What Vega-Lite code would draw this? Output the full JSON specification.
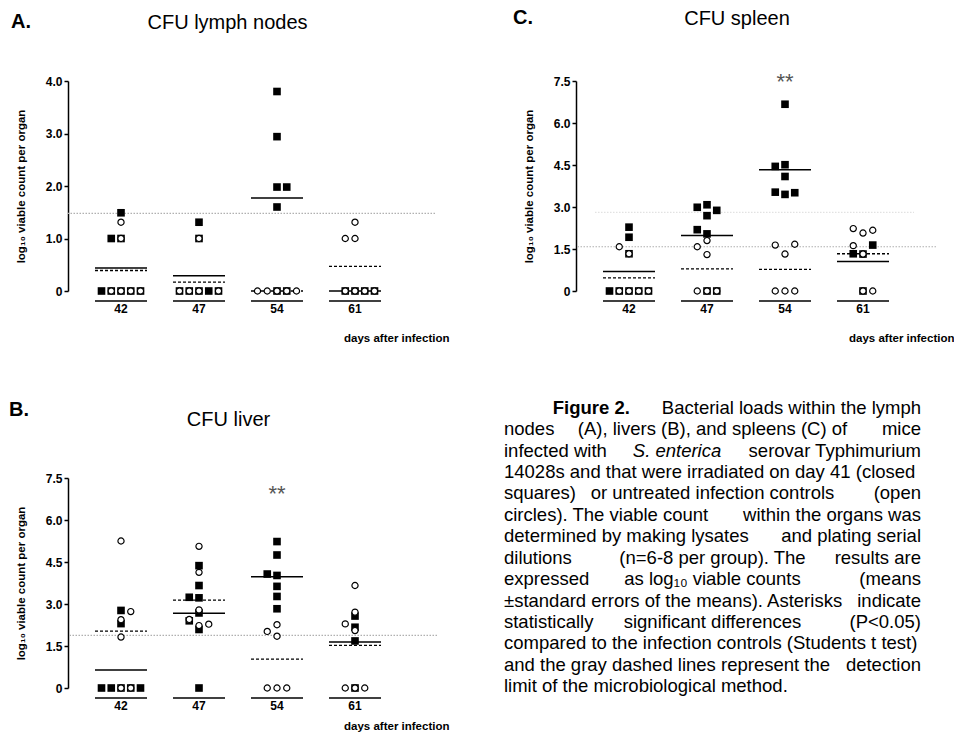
{
"$schema":"https://vega.github.io/schema/vega-lite/v6.json",
"padding":{"left":8,"top":7,"right":0,"bottom":0},
"config":{
 "font":"Liberation Sans",
 "view":{"stroke":null},
 "axis":{"grid":false,"labelFont":"Liberation Sans","titleFont":"Liberation Sans","labelFontWeight":"bold","titleFontWeight":"bold","labelFontSize":12,"titleFontSize":11.5,"labelColor":"black","titleColor":"black","domainColor":"black","tickColor":"black"},
 "axisY":{"domainWidth":1.5,"tickWidth":1.5,"tickSize":4,"labelPadding":2,"titleX":-47,"titleBaseline":"middle"},
 "axisX":{"domain":false,"ticks":false,"labelPadding":12,"labelAngle":0,"titleAnchor":"end","titleAlign":"right","titleX":381,"titleY":47,"titleBaseline":"middle"},
 "title":{"font":"Liberation Sans","color":"black"}
},
"spacing":54,
"datasets":{
"lymph":[
{"day":"42","grp":"S","slot":-2,"log":0},{"day":"42","grp":"S","slot":-1,"log":0},{"day":"42","grp":"S","slot":0,"log":0},{"day":"42","grp":"S","slot":1,"log":0},{"day":"42","grp":"S","slot":2,"log":0},{"day":"42","grp":"S","slot":-1,"log":1.0},{"day":"42","grp":"S","slot":0,"log":1.0},{"day":"42","grp":"S","slot":0,"log":1.49},
{"day":"47","grp":"S","slot":-2,"log":0},{"day":"47","grp":"S","slot":-1,"log":0},{"day":"47","grp":"S","slot":0,"log":0},{"day":"47","grp":"S","slot":1,"log":0},{"day":"47","grp":"S","slot":2,"log":0},{"day":"47","grp":"S","slot":0,"log":1.0},{"day":"47","grp":"S","slot":0,"log":1.31},
{"day":"54","grp":"S","slot":0,"log":0},{"day":"54","grp":"S","slot":1,"log":0},{"day":"54","grp":"S","slot":0,"log":1.6},{"day":"54","grp":"S","slot":0,"log":1.98},{"day":"54","grp":"S","slot":1,"log":1.98},{"day":"54","grp":"S","slot":0,"log":2.94},{"day":"54","grp":"S","slot":0,"log":3.8},
{"day":"61","grp":"S","slot":-1,"log":0},{"day":"61","grp":"S","slot":0,"log":0},{"day":"61","grp":"S","slot":1,"log":0},{"day":"61","grp":"S","slot":2,"log":0},
{"day":"42","grp":"C","slot":-1,"log":0},{"day":"42","grp":"C","slot":0,"log":0},{"day":"42","grp":"C","slot":1,"log":0},{"day":"42","grp":"C","slot":2,"log":0},{"day":"42","grp":"C","slot":0,"log":1.0},{"day":"42","grp":"C","slot":0,"log":1.31},
{"day":"47","grp":"C","slot":-2,"log":0},{"day":"47","grp":"C","slot":-1,"log":0},{"day":"47","grp":"C","slot":0,"log":0},{"day":"47","grp":"C","slot":2,"log":0},{"day":"47","grp":"C","slot":0,"log":1.0},
{"day":"54","grp":"C","slot":-2,"log":0},{"day":"54","grp":"C","slot":-1,"log":0},{"day":"54","grp":"C","slot":0,"log":0},{"day":"54","grp":"C","slot":1,"log":0},{"day":"54","grp":"C","slot":2,"log":0},
{"day":"61","grp":"C","slot":-1,"log":0},{"day":"61","grp":"C","slot":0,"log":0},{"day":"61","grp":"C","slot":1,"log":0},{"day":"61","grp":"C","slot":2,"log":0},{"day":"61","grp":"C","slot":-1,"log":1.0},{"day":"61","grp":"C","slot":0,"log":1.0},{"day":"61","grp":"C","slot":0,"log":1.31}
],
"lymphMean":[{"day":"42","sq":0.44,"ci":0.39},{"day":"47","sq":0.29,"ci":0.17},{"day":"54","sq":1.77,"ci":0},{"day":"61","sq":0,"ci":0.47}],
"spleen":[
{"day":"42","grp":"S","slot":-2,"log":0},{"day":"42","grp":"S","slot":-1,"log":0},{"day":"42","grp":"S","slot":0,"log":0},{"day":"42","grp":"S","slot":1,"log":0},{"day":"42","grp":"S","slot":2,"log":0},{"day":"42","grp":"S","slot":0,"log":1.33},{"day":"42","grp":"S","slot":0,"log":1.92},{"day":"42","grp":"S","slot":0,"log":2.28},
{"day":"47","grp":"S","slot":0,"log":0},{"day":"47","grp":"S","slot":1,"log":0},{"day":"47","grp":"S","slot":0,"log":2.04},{"day":"47","grp":"S","slot":-1,"log":2.19},{"day":"47","grp":"S","slot":0,"log":2.69},{"day":"47","grp":"S","slot":1,"log":2.88},{"day":"47","grp":"S","slot":-1,"log":2.99},{"day":"47","grp":"S","slot":0,"log":3.08},
{"day":"54","grp":"S","slot":0,"log":6.67},{"day":"54","grp":"S","slot":0,"log":4.51},{"day":"54","grp":"S","slot":-1,"log":4.45},{"day":"54","grp":"S","slot":0,"log":4.09},{"day":"54","grp":"S","slot":-1,"log":3.53},{"day":"54","grp":"S","slot":0,"log":3.45},{"day":"54","grp":"S","slot":1,"log":3.51},
{"day":"61","grp":"S","slot":0,"log":0},{"day":"61","grp":"S","slot":0,"log":1.32},{"day":"61","grp":"S","slot":-1,"log":1.33},{"day":"61","grp":"S","slot":1,"log":1.64},
{"day":"42","grp":"C","slot":-1,"log":0},{"day":"42","grp":"C","slot":0,"log":0},{"day":"42","grp":"C","slot":1,"log":0},{"day":"42","grp":"C","slot":2,"log":0},{"day":"42","grp":"C","slot":-1,"log":1.58},{"day":"42","grp":"C","slot":0,"log":1.33},
{"day":"47","grp":"C","slot":-1,"log":0},{"day":"47","grp":"C","slot":0,"log":0},{"day":"47","grp":"C","slot":1,"log":0},{"day":"47","grp":"C","slot":0,"log":1.8},{"day":"47","grp":"C","slot":-1,"log":1.58},{"day":"47","grp":"C","slot":0,"log":1.3},
{"day":"54","grp":"C","slot":-1,"log":0},{"day":"54","grp":"C","slot":0,"log":0},{"day":"54","grp":"C","slot":1,"log":0},{"day":"54","grp":"C","slot":-1,"log":1.64},{"day":"54","grp":"C","slot":1,"log":1.67},{"day":"54","grp":"C","slot":0,"log":1.32},
{"day":"61","grp":"C","slot":0,"log":0},{"day":"61","grp":"C","slot":1,"log":0},{"day":"61","grp":"C","slot":-1,"log":2.23},{"day":"61","grp":"C","slot":0,"log":2.07},{"day":"61","grp":"C","slot":1,"log":2.17},{"day":"61","grp":"C","slot":-1,"log":1.62},{"day":"61","grp":"C","slot":0,"log":1.32}
],
"spleenMean":[{"day":"42","sq":0.7,"ci":0.47},{"day":"47","sq":1.98,"ci":0.79},{"day":"54","sq":4.33,"ci":0.77},{"day":"61","sq":1.05,"ci":1.33}],
"liver":[
{"day":"42","grp":"S","slot":-2,"log":0},{"day":"42","grp":"S","slot":-1,"log":0},{"day":"42","grp":"S","slot":0,"log":0},{"day":"42","grp":"S","slot":1,"log":0},{"day":"42","grp":"S","slot":2,"log":0},{"day":"42","grp":"S","slot":0,"log":2.3},{"day":"42","grp":"S","slot":0,"log":2.77},
{"day":"47","grp":"S","slot":0,"log":0},{"day":"47","grp":"S","slot":0,"log":2.09},{"day":"47","grp":"S","slot":-1,"log":2.4},{"day":"47","grp":"S","slot":0,"log":2.68},{"day":"47","grp":"S","slot":0,"log":3.22},{"day":"47","grp":"S","slot":-1,"log":3.24},{"day":"47","grp":"S","slot":0,"log":3.66},{"day":"47","grp":"S","slot":0,"log":4.37},
{"day":"54","grp":"S","slot":0,"log":2.83},{"day":"54","grp":"S","slot":0,"log":3.27},{"day":"54","grp":"S","slot":0,"log":3.63},{"day":"54","grp":"S","slot":0,"log":4.02},{"day":"54","grp":"S","slot":-1,"log":4.07},{"day":"54","grp":"S","slot":0,"log":4.75},{"day":"54","grp":"S","slot":0,"log":5.23},
{"day":"61","grp":"S","slot":0,"log":0},{"day":"61","grp":"S","slot":0,"log":1.68},{"day":"61","grp":"S","slot":0,"log":2.17},{"day":"61","grp":"S","slot":0,"log":2.57},
{"day":"42","grp":"C","slot":0,"log":0},{"day":"42","grp":"C","slot":1,"log":0},{"day":"42","grp":"C","slot":0,"log":1.82},{"day":"42","grp":"C","slot":0,"log":2.44},{"day":"42","grp":"C","slot":1,"log":2.73},{"day":"42","grp":"C","slot":0,"log":5.25},
{"day":"47","grp":"C","slot":0,"log":2.23},{"day":"47","grp":"C","slot":1,"log":2.28},{"day":"47","grp":"C","slot":-1,"log":2.45},{"day":"47","grp":"C","slot":0,"log":2.79},{"day":"47","grp":"C","slot":0,"log":4.13},{"day":"47","grp":"C","slot":0,"log":5.06},
{"day":"54","grp":"C","slot":-1,"log":0},{"day":"54","grp":"C","slot":0,"log":0},{"day":"54","grp":"C","slot":1,"log":0},{"day":"54","grp":"C","slot":0,"log":1.85},{"day":"54","grp":"C","slot":-1,"log":2.02},{"day":"54","grp":"C","slot":0,"log":2.26},
{"day":"61","grp":"C","slot":-1,"log":0},{"day":"61","grp":"C","slot":0,"log":0},{"day":"61","grp":"C","slot":1,"log":0},{"day":"61","grp":"C","slot":0,"log":2.05},{"day":"61","grp":"C","slot":-1,"log":2.29},{"day":"61","grp":"C","slot":0,"log":2.71},{"day":"61","grp":"C","slot":0,"log":3.66}
],
"liverMean":[{"day":"42","sq":0.64,"ci":2.03},{"day":"47","sq":2.67,"ci":3.14},{"day":"54","sq":3.97,"ci":1.03},{"day":"61","sq":1.64,"ci":1.52}],
"caption":[
{"line":1,"part":"B","text":"Figure 2."},{"line":1,"part":"R","text":"Bacterial loads within the lymph"},
{"line":2,"part":"L","text":"nodes"},{"line":2,"part":"M","text":"(A), livers (B), and spleens (C) of"},{"line":2,"part":"R","text":"mice"},
{"line":3,"part":"L","text":"infected with"},{"line":3,"part":"I","text":"S. enterica"},{"line":3,"part":"R","text":"serovar Typhimurium"},
{"line":4,"part":"L","text":"14028s and that were irradiated on day 41 (closed"},
{"line":5,"part":"L","text":"squares)"},{"line":5,"part":"M","text":"or untreated infection controls"},{"line":5,"part":"R","text":"(open"},
{"line":6,"part":"L","text":"circles). The viable count"},{"line":6,"part":"R","text":"within the organs was"},
{"line":7,"part":"L","text":"determined by making lysates"},{"line":7,"part":"R","text":"and plating serial"},
{"line":8,"part":"L","text":"dilutions"},{"line":8,"part":"M","text":"(n=6-8 per group). The"},{"line":8,"part":"R","text":"results are"},
{"line":9,"part":"L","text":"expressed"},{"line":9,"part":"M","text":"as log₁₀ viable counts"},{"line":9,"part":"R","text":"(means"},
{"line":10,"part":"L","text":"±standard errors of the means). Asterisks"},{"line":10,"part":"R","text":"indicate"},
{"line":11,"part":"L","text":"statistically"},{"line":11,"part":"M","text":"significant differences"},{"line":11,"part":"R","text":"(P<0.05)"},
{"line":12,"part":"L","text":"compared to the infection controls (Students t test)"},
{"line":13,"part":"L","text":"and the gray dashed lines represent the"},{"line":13,"part":"R","text":"detection"},
{"line":14,"part":"L","text":"limit of the microbiological method."}
]
},
"hconcat":[
{"spacing":56,"vconcat":[
{
 "title":{"text":"A.","anchor":"start","frame":"bounds","fontSize":20,"fontWeight":"bold","baseline":"alphabetic","dx":-4,"dy":18,"offset":-17},
 "vconcat":[{
  "title":{"text":"CFU lymph nodes","anchor":"middle","fontSize":20,"fontWeight":"normal","dx":-24,"offset":42},
  "width":367,"height":210,
  "layer":[
   {"data":{"values":[{}]},"mark":{"type":"rule","color":"#b0b0b0","strokeDash":[1.5,1.5],"strokeWidth":1.2},"encoding":{"y":{"datum":1.48,"type":"quantitative","scale":{"domain":[0,4],"nice":false}}}},
   {"data":{"name":"lymphMean"},"mark":{"type":"rule","color":"black","strokeWidth":1.5,"xOffset":-26,"x2Offset":26,"yOffset":10},"encoding":{"x":{"field":"day","type":"nominal","scale":{"domain":["42","47","54","61"],"range":[14,326],"paddingInner":0,"paddingOuter":0},"axis":{"title":"days after infection"}},"x2":{"field":"day"},"y":{"datum":0,"type":"quantitative","scale":{"domain":[0,4],"nice":false}}}},
   {"data":{"name":"lymphMean"},"mark":{"type":"rule","color":"black","strokeWidth":1.5,"xOffset":-26,"x2Offset":26},"encoding":{"x":{"field":"day","type":"nominal","scale":{"domain":["42","47","54","61"],"range":[14,326],"paddingInner":0,"paddingOuter":0},"axis":{"title":"days after infection"}},"x2":{"field":"day"},"y":{"field":"sq","type":"quantitative","scale":{"domain":[0,4],"nice":false}}}},
   {"data":{"name":"lymphMean"},"mark":{"type":"rule","color":"black","strokeWidth":1.3,"strokeDash":[3,2],"xOffset":-26,"x2Offset":26},"encoding":{"x":{"field":"day","type":"nominal","scale":{"domain":["42","47","54","61"],"range":[14,326],"paddingInner":0,"paddingOuter":0},"axis":{"title":"days after infection"}},"x2":{"field":"day"},"y":{"field":"ci","type":"quantitative","scale":{"domain":[0,4],"nice":false}}}},
   {"data":{"name":"lymph"},"transform":[{"filter":"datum.grp == 'S'"}],"mark":{"type":"point","shape":"square","filled":true,"color":"black","size":58,"opacity":1},"encoding":{"x":{"field":"day","type":"nominal","scale":{"domain":["42","47","54","61"],"range":[14,326],"paddingInner":0,"paddingOuter":0},"axis":{"title":"days after infection"}},"xOffset":{"field":"slot","type":"ordinal","scale":{"type":"point","domain":[-4,-3,-2,-1,0,1,2,3,4],"padding":0}},"y":{"field":"log","type":"quantitative","scale":{"domain":[0,4],"nice":false},"axis":{"values":[0,1,2,3,4],"labelExpr":"datum.value == 0 ? '0' : format(datum.value, '.1f')","title":"log₁₀ viable count per organ"}}}},
   {"data":{"name":"lymph"},"transform":[{"filter":"datum.grp == 'C'"}],"mark":{"type":"point","shape":"circle","filled":true,"fill":"white","stroke":"black","strokeWidth":1.2,"size":38,"opacity":1},"encoding":{"x":{"field":"day","type":"nominal","scale":{"domain":["42","47","54","61"],"range":[14,326],"paddingInner":0,"paddingOuter":0},"axis":{"title":"days after infection"}},"xOffset":{"field":"slot","type":"ordinal","scale":{"type":"point","domain":[-4,-3,-2,-1,0,1,2,3,4],"padding":0}},"y":{"field":"log","type":"quantitative","scale":{"domain":[0,4],"nice":false},"axis":{"values":[0,1,2,3,4],"labelExpr":"datum.value == 0 ? '0' : format(datum.value, '.1f')","title":"log₁₀ viable count per organ"}}}}
  ]
 }]
},
{
 "title":{"text":"B.","anchor":"start","frame":"bounds","fontSize":20,"fontWeight":"bold","baseline":"alphabetic","dx":-6,"dy":8,"offset":-18},
 "vconcat":[{
  "title":{"text":"CFU liver","anchor":"middle","fontSize":20,"fontWeight":"normal","dx":-24,"offset":42},
  "width":369,"height":210,
  "layer":[
   {"data":{"values":[{}]},"mark":{"type":"rule","color":"#b0b0b0","strokeDash":[1.5,1.5],"strokeWidth":1.2},"encoding":{"y":{"datum":1.88,"type":"quantitative","scale":{"domain":[0,7.5],"nice":false}}}},
   {"data":{"name":"liverMean"},"mark":{"type":"rule","color":"black","strokeWidth":1.5,"xOffset":-26,"x2Offset":26,"yOffset":10},"encoding":{"x":{"field":"day","type":"nominal","scale":{"domain":["42","47","54","61"],"range":[14,326],"paddingInner":0,"paddingOuter":0},"axis":{"title":"days after infection","titleY":38}},"x2":{"field":"day"},"y":{"datum":0,"type":"quantitative","scale":{"domain":[0,7.5],"nice":false}}}},
   {"data":{"name":"liverMean"},"mark":{"type":"rule","color":"black","strokeWidth":1.5,"xOffset":-26,"x2Offset":26},"encoding":{"x":{"field":"day","type":"nominal","scale":{"domain":["42","47","54","61"],"range":[14,326],"paddingInner":0,"paddingOuter":0},"axis":{"title":"days after infection","titleY":38}},"x2":{"field":"day"},"y":{"field":"sq","type":"quantitative","scale":{"domain":[0,7.5],"nice":false}}}},
   {"data":{"name":"liverMean"},"mark":{"type":"rule","color":"black","strokeWidth":1.3,"strokeDash":[3,2],"xOffset":-26,"x2Offset":26},"encoding":{"x":{"field":"day","type":"nominal","scale":{"domain":["42","47","54","61"],"range":[14,326],"paddingInner":0,"paddingOuter":0},"axis":{"title":"days after infection","titleY":38}},"x2":{"field":"day"},"y":{"field":"ci","type":"quantitative","scale":{"domain":[0,7.5],"nice":false}}}},
   {"data":{"name":"liver"},"transform":[{"filter":"datum.grp == 'S'"}],"mark":{"type":"point","shape":"square","filled":true,"color":"black","size":58,"opacity":1},"encoding":{"x":{"field":"day","type":"nominal","scale":{"domain":["42","47","54","61"],"range":[14,326],"paddingInner":0,"paddingOuter":0},"axis":{"title":"days after infection","titleY":38}},"xOffset":{"field":"slot","type":"ordinal","scale":{"type":"point","domain":[-4,-3,-2,-1,0,1,2,3,4],"padding":0}},"y":{"field":"log","type":"quantitative","scale":{"domain":[0,7.5],"nice":false},"axis":{"values":[0,1.5,3,4.5,6,7.5],"labelExpr":"datum.value == 0 ? '0' : format(datum.value, '.1f')","title":"log₁₀ viable count per organ"}}}},
   {"data":{"name":"liver"},"transform":[{"filter":"datum.grp == 'C'"}],"mark":{"type":"point","shape":"circle","filled":true,"fill":"white","stroke":"black","strokeWidth":1.2,"size":38,"opacity":1},"encoding":{"x":{"field":"day","type":"nominal","scale":{"domain":["42","47","54","61"],"range":[14,326],"paddingInner":0,"paddingOuter":0},"axis":{"title":"days after infection","titleY":38}},"xOffset":{"field":"slot","type":"ordinal","scale":{"type":"point","domain":[-4,-3,-2,-1,0,1,2,3,4],"padding":0}},"y":{"field":"log","type":"quantitative","scale":{"domain":[0,7.5],"nice":false},"axis":{"values":[0,1.5,3,4.5,6,7.5],"labelExpr":"datum.value == 0 ? '0' : format(datum.value, '.1f')","title":"log₁₀ viable count per organ"}}}},
   {"data":{"values":[{"day":"54","sig":"**"}]},"mark":{"type":"text","fontSize":22,"color":"#555","baseline":"middle","dy":5},"encoding":{"x":{"field":"day","type":"nominal","scale":{"domain":["42","47","54","61"],"range":[14,326],"paddingInner":0,"paddingOuter":0},"axis":{"title":"days after infection","titleY":38}},"y":{"datum":7.11,"type":"quantitative","scale":{"domain":[0,7.5],"nice":false}},"text":{"field":"sig"}}}
  ]
 }]
}
]},
{"spacing":53,"vconcat":[
{
 "title":{"text":"C.","anchor":"start","frame":"bounds","fontSize":20,"fontWeight":"bold","baseline":"alphabetic","dx":-10,"dy":18,"offset":-17},
 "vconcat":[{
  "title":{"text":"CFU spleen","anchor":"middle","fontSize":20,"fontWeight":"normal","dx":-19,"offset":42},
  "width":360,"height":210,
  "layer":[
   {"data":{"values":[{}]},"mark":{"type":"rule","color":"#b0b0b0","strokeDash":[1.5,1.5],"strokeWidth":1.2},"encoding":{"y":{"datum":1.58,"type":"quantitative","scale":{"domain":[0,7.5],"nice":false}}}},
   {"data":{"values":[{}]},"mark":{"type":"rule","color":"#e2e2e2","strokeDash":[1.5,1.5],"strokeWidth":1.2,"xOffset":-34,"x2Offset":51},"encoding":{"x":{"datum":"42","type":"nominal","scale":{"domain":["42","47","54","61"],"range":[14,326],"paddingInner":0,"paddingOuter":0}},"x2":{"datum":"61"},"y":{"datum":2.81,"type":"quantitative","scale":{"domain":[0,7.5],"nice":false}}}},
   {"data":{"name":"spleenMean"},"mark":{"type":"rule","color":"black","strokeWidth":1.5,"xOffset":-26,"x2Offset":26,"yOffset":10},"encoding":{"x":{"field":"day","type":"nominal","scale":{"domain":["42","47","54","61"],"range":[14,326],"paddingInner":0,"paddingOuter":0},"axis":{"title":"days after infection","titleX":378}},"x2":{"field":"day"},"y":{"datum":0,"type":"quantitative","scale":{"domain":[0,7.5],"nice":false}}}},
   {"data":{"name":"spleenMean"},"mark":{"type":"rule","color":"black","strokeWidth":1.5,"xOffset":-26,"x2Offset":26},"encoding":{"x":{"field":"day","type":"nominal","scale":{"domain":["42","47","54","61"],"range":[14,326],"paddingInner":0,"paddingOuter":0},"axis":{"title":"days after infection","titleX":378}},"x2":{"field":"day"},"y":{"field":"sq","type":"quantitative","scale":{"domain":[0,7.5],"nice":false}}}},
   {"data":{"name":"spleenMean"},"mark":{"type":"rule","color":"black","strokeWidth":1.3,"strokeDash":[3,2],"xOffset":-26,"x2Offset":26},"encoding":{"x":{"field":"day","type":"nominal","scale":{"domain":["42","47","54","61"],"range":[14,326],"paddingInner":0,"paddingOuter":0},"axis":{"title":"days after infection","titleX":378}},"x2":{"field":"day"},"y":{"field":"ci","type":"quantitative","scale":{"domain":[0,7.5],"nice":false}}}},
   {"data":{"name":"spleen"},"transform":[{"filter":"datum.grp == 'S'"}],"mark":{"type":"point","shape":"square","filled":true,"color":"black","size":58,"opacity":1},"encoding":{"x":{"field":"day","type":"nominal","scale":{"domain":["42","47","54","61"],"range":[14,326],"paddingInner":0,"paddingOuter":0},"axis":{"title":"days after infection","titleX":378}},"xOffset":{"field":"slot","type":"ordinal","scale":{"type":"point","domain":[-4,-3,-2,-1,0,1,2,3,4],"padding":0}},"y":{"field":"log","type":"quantitative","scale":{"domain":[0,7.5],"nice":false},"axis":{"values":[0,1.5,3,4.5,6,7.5],"labelExpr":"datum.value == 0 ? '0' : format(datum.value, '.1f')","title":"log₁₀ viable count per organ"}}}},
   {"data":{"name":"spleen"},"transform":[{"filter":"datum.grp == 'C'"}],"mark":{"type":"point","shape":"circle","filled":true,"fill":"white","stroke":"black","strokeWidth":1.2,"size":38,"opacity":1},"encoding":{"x":{"field":"day","type":"nominal","scale":{"domain":["42","47","54","61"],"range":[14,326],"paddingInner":0,"paddingOuter":0},"axis":{"title":"days after infection","titleX":378}},"xOffset":{"field":"slot","type":"ordinal","scale":{"type":"point","domain":[-4,-3,-2,-1,0,1,2,3,4],"padding":0}},"y":{"field":"log","type":"quantitative","scale":{"domain":[0,7.5],"nice":false},"axis":{"values":[0,1.5,3,4.5,6,7.5],"labelExpr":"datum.value == 0 ? '0' : format(datum.value, '.1f')","title":"log₁₀ viable count per organ"}}}},
   {"data":{"values":[{"day":"54","sig":"**"}]},"mark":{"type":"text","fontSize":22,"color":"#555","baseline":"middle","dy":5},"encoding":{"x":{"field":"day","type":"nominal","scale":{"domain":["42","47","54","61"],"range":[14,326],"paddingInner":0,"paddingOuter":0},"axis":{"title":"days after infection","titleX":378}},"y":{"datum":7.65,"type":"quantitative","scale":{"domain":[0,7.5],"nice":false}},"text":{"field":"sig"}}}
  ]
 }]
},
{
 "width":345,"height":300,
 "data":{"name":"caption"},
 "layer":[
  {"transform":[{"filter":"datum.part == 'L'"}],"mark":{"type":"text","align":"left","baseline":"middle","fontSize":18.5,"color":"black"},"encoding":{"x":{"datum":0,"type":"quantitative","scale":{"domain":[0.1727,1],"zero":false,"nice":false},"axis":null},"y":{"field":"line","type":"ordinal","scale":{"type":"point","padding":0.5},"axis":null},"text":{"field":"text"}}},
  {"transform":[{"filter":"datum.part == 'M'"}],"mark":{"type":"text","align":"center","baseline":"middle","fontSize":18.5,"color":"black"},"encoding":{"x":{"datum":0.5,"type":"quantitative","scale":{"domain":[0.1727,1],"zero":false,"nice":false},"axis":null},"y":{"field":"line","type":"ordinal","scale":{"type":"point","padding":0.5},"axis":null},"text":{"field":"text"}}},
  {"transform":[{"filter":"datum.part == 'R'"}],"mark":{"type":"text","align":"right","baseline":"middle","fontSize":18.5,"color":"black"},"encoding":{"x":{"datum":1,"type":"quantitative","scale":{"domain":[0.1727,1],"zero":false,"nice":false},"axis":null},"y":{"field":"line","type":"ordinal","scale":{"type":"point","padding":0.5},"axis":null},"text":{"field":"text"}}},
  {"transform":[{"filter":"datum.part == 'B'"}],"mark":{"type":"text","align":"left","baseline":"middle","fontSize":18.5,"fontWeight":"bold","color":"black"},"encoding":{"x":{"datum":0.117,"type":"quantitative","scale":{"domain":[0.1727,1],"zero":false,"nice":false},"axis":null},"y":{"field":"line","type":"ordinal","scale":{"type":"point","padding":0.5},"axis":null},"text":{"field":"text"}}},
  {"transform":[{"filter":"datum.part == 'I'"}],"mark":{"type":"text","align":"center","baseline":"middle","fontSize":18.5,"fontStyle":"italic","color":"black"},"encoding":{"x":{"datum":0.415,"type":"quantitative","scale":{"domain":[0.1727,1],"zero":false,"nice":false},"axis":null},"y":{"field":"line","type":"ordinal","scale":{"type":"point","padding":0.5},"axis":null},"text":{"field":"text"}}}
 ]
}
]}
]
}
